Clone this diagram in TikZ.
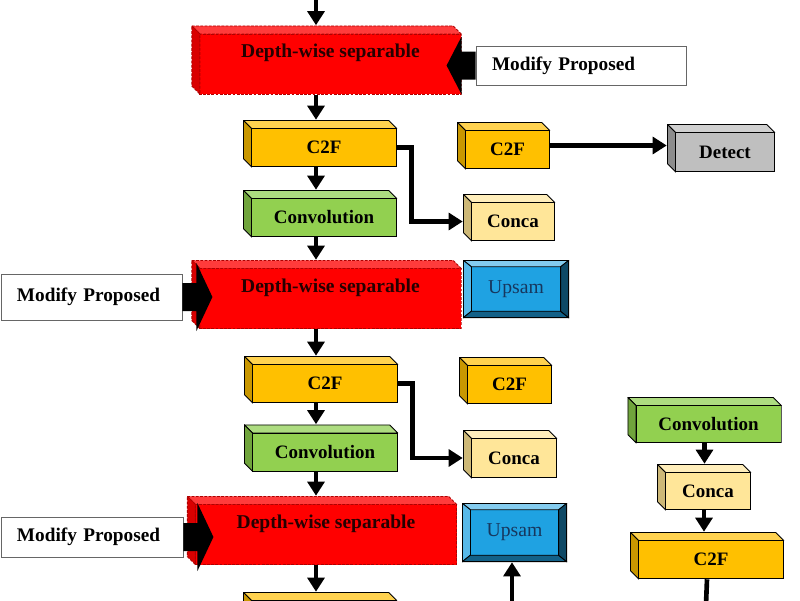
\documentclass[tikz,border=0pt]{standalone}
\usepackage{fontspec}
\setmainfont{Liberation Serif}
\usetikzlibrary{arrows.meta}

\definecolor{c2ffront}{HTML}{FFC000}
\definecolor{c2ftop}{HTML}{FFD24F}
\definecolor{c2fside}{HTML}{C99700}
\definecolor{convfront}{HTML}{92D050}
\definecolor{convtop}{HTML}{ADDC80}
\definecolor{convside}{HTML}{70A43C}
\definecolor{concafront}{HTML}{FFE699}
\definecolor{concatop}{HTML}{FFEEBB}
\definecolor{concaside}{HTML}{CDB877}
\definecolor{detfront}{HTML}{BFBFBF}
\definecolor{dettop}{HTML}{D0D0D0}
\definecolor{detside}{HTML}{8C8C8C}
\definecolor{dwsfront}{HTML}{FF0000}
\definecolor{dwstop}{HTML}{FF3B3B}
\definecolor{dwsside}{HTML}{D90000}
\definecolor{dwsline}{HTML}{B00000}
\definecolor{upfront}{HTML}{1FA2E2}
\definecolor{uptext}{HTML}{17375E}

\tikzset{
  faceline/.style={draw=black, line width=0.6pt},
  cube/.style n args={3}{inner sep=0pt, font=\bfseries\fontsize{13.5}{16}\selectfont,
    text height=6mm, text depth=0.8mm, execute at begin node={\kern2mm},
    path picture={
      \coordinate (pnw) at ([shift={(0.3pt,-0.3pt)}]path picture bounding box.north west);
      \coordinate (pse) at ([shift={(-0.3pt,0.3pt)}]path picture bounding box.south east);
      \coordinate (pne) at (pse |- pnw);
      \coordinate (psw) at (pnw |- pse);
      \coordinate (pfr) at ([shift={(2mm,-2mm)}]pnw);
      \filldraw[faceline, fill=#1] (pfr) rectangle (pse);
      \filldraw[faceline, fill=#2] (pnw) -- ([xshift=-2mm]pne) -- ([yshift=-2mm]pne) -- (pfr) -- cycle;
      \filldraw[faceline, fill=#3] (pnw) -- (pfr) -- ([xshift=2mm]psw) -- ([yshift=2mm]psw) -- cycle;
    }},
  c2f/.style={cube={c2ffront}{c2ftop}{c2fside}},
  conv/.style={cube={convfront}{convtop}{convside}},
  conca/.style={cube={concafront}{concatop}{concaside}},
  detect/.style={cube={detfront}{dettop}{detside}},
  wide/.style={minimum width=38.5mm, minimum height=11.75mm},
  small/.style={minimum width=23.25mm, minimum height=11.75mm},
  dws/.style={cube={dwsfront}{dwstop}{dwsside}, text=black!85!red,
    font=\bfseries\fontsize{13.9}{16}\selectfont,
    faceline/.style={draw=dwsline, line width=0.6pt, dash pattern=on 2pt off 1pt},
    minimum width=67.5mm, minimum height=17.25mm, text height=3mm, text depth=4.2mm},
  modify/.style={draw=black!60, line width=0.6pt, fill=white, inner ysep=0pt,
    inner xsep=4mm, align=left, font=\bfseries\fontsize{13.7}{15}\selectfont},
  upsam/.style={inner sep=0pt, minimum width=26.5mm, minimum height=14.5mm,
    text=uptext, font=\fontsize{14}{16}\selectfont,
    path picture={
      \coordinate (pnw) at ([shift={(0.3pt,-0.3pt)}]path picture bounding box.north west);
      \coordinate (pse) at ([shift={(-0.3pt,0.3pt)}]path picture bounding box.south east);
      \coordinate (pne) at (pse |- pnw);
      \coordinate (psw) at (pnw |- pse);
      \filldraw[faceline, fill=upfront] (pnw) rectangle (pse);
      \filldraw[faceline, fill=upfront!55!white] (pnw) -- (pne) -- ([shift={(-2mm,-1.6mm)}]pne) -- ([shift={(2mm,-1.6mm)}]pnw) -- cycle;
      \filldraw[faceline, fill=upfront!75!white] (pnw) -- ([shift={(2mm,-1.6mm)}]pnw) -- ([shift={(2mm,1.6mm)}]psw) -- (psw) -- cycle;
      \filldraw[faceline, fill=upfront!60!black] (psw) -- (pse) -- ([shift={(-2mm,1.6mm)}]pse) -- ([shift={(2mm,1.6mm)}]psw) -- cycle;
      \filldraw[faceline, fill=upfront!45!black] (pne) -- (pse) -- ([shift={(-2mm,1.6mm)}]pse) -- ([shift={(-2mm,-1.6mm)}]pne) -- cycle;
    }},
  arr/.style={line width=3.3pt, -{Triangle[width=12pt,length=10pt]}},
  block/.style={fill=black}
}

\begin{document}
\begin{tikzpicture}[x=0.25mm,y=-0.25mm]
\useasboundingbox (0,0) rectangle (800,600);

% main column
\node[dws] (dwsA) at (326.5,60) {Depth-wise separable};
\node[c2f, wide] (c2fA) at (320,143.5) {C2F};
\node[conv, wide] (convA) at (320,213.5) {Convolution};
\node[dws] (dwsB) at (326.5,294.5) {Depth-wise separable};
\node[c2f, wide] (c2fB) at (321,379.5) {C2F};
\node[conv, wide] (convB) at (321,448) {Convolution};
\node[dws] (dwsC) at (322,530.5) {Depth-wise separable};
\node[c2f, wide] (c2fC) at (320,615.5) {};

% side blocks
\node[c2f, small] (c2fR1) at (503.5,145.5) {C2F};
\node[detect, small, minimum width=27mm, minimum height=12mm] (detect) at (721,148) {Detect};
\node[conca, small, minimum width=23mm] (concaA) at (509,217.5) {Conca};
\node[upsam] (upA) at (516,289) {Upsam};
\node[c2f, small] (c2fR2) at (505.5,380.5) {C2F};
\node[conca, small, minimum width=23.5mm, minimum height=12mm] (concaB) at (510,454) {Conca};
\node[upsam, minimum width=26.25mm, minimum height=14.75mm] (upB) at (514.5,532.5) {Upsam};

% right column
\node[conv, wide, minimum height=11.5mm] (convR) at (704.5,420) {Convolution};
\node[conca, small, minimum width=23.5mm, minimum height=11.5mm] (concaR) at (704,487) {Conca};
\node[c2f, wide] (c2fR3) at (707,555.5) {C2F};

% modify boxes
\node[modify, text width=44.5mm, minimum height=9.75mm] (modA) at (581,65.5) {Modify Proposed};
\node[modify, text width=37.25mm, minimum height=11.5mm] (modB) at (91.5,297) {Modify Proposed};
\node[modify, text width=37.5mm, minimum height=10mm] (modC) at (92,537) {Modify Proposed};

\coordinate (spine) at (316,0);
\coordinate (topin) at (316,-10);
\coordinate (upin) at (512,630);
\coordinate (outR) at (705,630);

% arrows
\draw[arr] (topin) -- (dwsA.north -| topin);
\draw[arr] (dwsA.south -| spine) -- (c2fA.north -| spine);
\draw[arr] (c2fA.south -| spine) -- (convA.north -| spine);
\draw[arr] (convA.south -| spine) -- (dwsB.north -| spine);
\draw[arr] (dwsB.south -| spine) -- (c2fB.north -| spine);
\draw[arr] (c2fB.south -| spine) -- (convB.north -| spine);
\draw[arr] (convB.south -| spine) -- (dwsC.north -| spine);
\draw[arr] (dwsC.south -| spine) -- (c2fC.north -| spine);
\draw[arr] ([yshift=-1mm]c2fA.east) -- ++(14,0) |- ([yshift=-1mm]concaA.west);
\draw[arr] ([yshift=-1mm]c2fB.east) -- ++(14,0) |- ([yshift=-1mm]concaB.west);
\draw[arr] (c2fR1.east) -- (c2fR1.east -| detect.west);
\draw[arr] (convR.south) -- (convR.south |- concaR.north);
\draw[arr] (concaR.south) -- (concaR.south |- c2fR3.north);
\draw[arr] (c2fR3.south) -- (outR);
\draw[arr] (upin) -- (upin |- upB.south);

% block arrows from the modify boxes
\fill[block] (modA.west) ++(0,-14) -- ++(-14,0) -- ++(0,-15) -- ++(-15,29) -- ++(15,29) -- ++(0,-15) -- ++(14,0) -- cycle;
\fill[block] (modB.east) ++(0,-14) -- ++(14,0) -- ++(0,-20) -- ++(16,34) -- ++(-16,34) -- ++(0,-20) -- ++(-14,0) -- cycle;
\fill[block] (modC.east) ++(0,-14) -- ++(14,0) -- ++(0,-20) -- ++(16,34) -- ++(-16,34) -- ++(0,-20) -- ++(-14,0) -- cycle;
\end{tikzpicture}
\end{document}
